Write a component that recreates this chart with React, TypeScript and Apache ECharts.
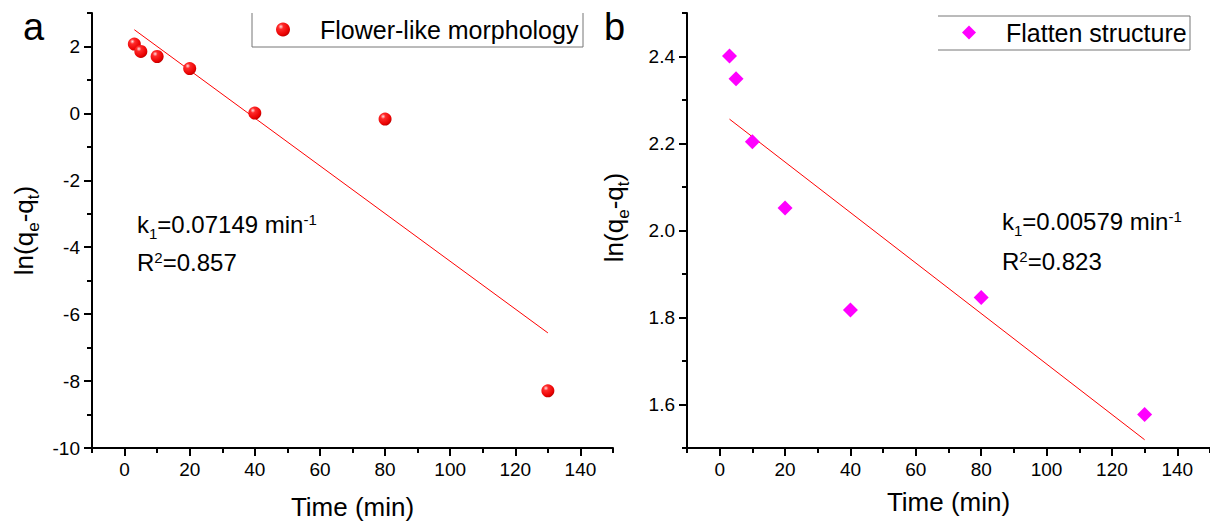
import React, { useEffect, useRef } from 'react';
import * as echarts from 'echarts';

// ---------- data ----------
const timeA = [3, 5, 10, 20, 40, 80, 130];
const lnA = [2.07, 1.85, 1.7, 1.34, 0.01, -0.17, -8.29];
const fitA = [[3, 2.5], [130, -6.56]];

const timeB = [3, 5, 10, 20, 40, 80, 130];
const lnB = [2.401, 2.349, 2.204, 2.052, 1.817, 1.846, 1.577];
const fitB = [[3, 2.256], [130, 1.519]];

const xMajor = [0, 20, 40, 60, 80, 100, 120, 140];
const xMinor = [-10, 10, 30, 50, 70, 90, 110, 130, 150];
const yMajorA = [-10, -8, -6, -4, -2, 0, 2];
const yMinorA = [-9, -7, -5, -3, -1, 1, 3];
const yMajorB = [1.6, 1.8, 2.0, 2.2, 2.4];
const yMinorB = [1.5, 1.7, 1.9, 2.1, 2.3, 2.5];

const nameA = 'Flower-like morphology';
const nameB = 'Flatten structure';

const FONT = '"Liberation Sans", Arial, sans-serif';

const tickStyle = { color: '#000', width: 2 };

function majorX(gridIndex: number, nameGap: number) {
  return {
    type: 'value', gridIndex, min: -10, max: 150, position: 'bottom',
    axisLine: { show: true, onZero: false, lineStyle: { color: '#000', width: 2 } },
    axisTick: { show: true, customValues: xMajor, length: 8, lineStyle: tickStyle },
    axisLabel: { customValues: xMajor, fontSize: 19, color: '#000', margin: 12, fontFamily: FONT },
    splitLine: { show: false },
    name: 'Time (min)', nameLocation: 'middle', nameGap,
    nameTextStyle: { fontSize: 26, color: '#000', fontFamily: FONT },
  };
}
function minorX(gridIndex: number) {
  return {
    type: 'value', gridIndex, min: -10, max: 150, position: 'bottom',
    axisLine: { show: false, onZero: false },
    axisTick: { show: true, customValues: xMinor, length: 5, lineStyle: tickStyle },
    axisLabel: { show: false },
    splitLine: { show: false },
  };
}
const yNameRich = {
  b: { fontSize: 26, lineHeight: 26, verticalAlign: 'top', fontFamily: FONT, color: '#000' },
  s: { fontSize: 17, lineHeight: 31, verticalAlign: 'bottom', fontFamily: FONT, color: '#000' },
};
function majorY(gridIndex: number, min: number, max: number, vals: number[], fmt: (v: number) => string, nameGap: number, pad: number[]) {
  return {
    type: 'value', gridIndex, min, max, position: 'left',
    axisLine: { show: true, onZero: false, lineStyle: { color: '#000', width: 2 } },
    axisTick: { show: true, customValues: vals, length: 8, lineStyle: tickStyle },
    axisLabel: { customValues: vals, fontSize: 19, color: '#000', margin: 12, fontFamily: FONT, formatter: fmt },
    splitLine: { show: false },
    name: '{b|ln(q}{s|e}{b|-q}{s|t}{b|)}', nameLocation: 'middle', nameGap,
    nameTextStyle: { fontSize: 26, color: '#000', fontFamily: FONT, rich: yNameRich, padding: pad },
  };
}
function minorY(gridIndex: number, min: number, max: number, vals: number[]) {
  return {
    type: 'value', gridIndex, min, max, position: 'left',
    axisLine: { show: false, onZero: false },
    axisTick: { show: true, customValues: vals, length: 5, lineStyle: tickStyle },
    axisLabel: { show: false },
    splitLine: { show: false },
  };
}

const annRich = {
  b: { fontSize: 24, lineHeight: 24, verticalAlign: 'top', fontFamily: FONT, color: '#000' },
  sub: { fontSize: 15, lineHeight: 29, verticalAlign: 'bottom', fontFamily: FONT, color: '#000' },
  sup: { fontSize: 15, lineHeight: 15, verticalAlign: 'top', fontFamily: FONT, color: '#000' },
};

const sphere = {
  type: 'radial', x: 0.35, y: 0.3, r: 0.75,
  colorStops: [
    { offset: 0, color: '#ffe0e0' },
    { offset: 0.25, color: '#ff2a2a' },
    { offset: 0.8, color: '#e80000' },
    { offset: 1, color: '#b00000' },
  ],
};

export default function App() {
  const ref = useRef<HTMLDivElement>(null);
  useEffect(() => {
    if (!ref.current) return;
    const chart = echarts.init(ref.current, undefined, { renderer: 'svg' });
    const option: any = {
      animation: false,
      backgroundColor: '#fff',
      grid: [
        { left: 92, top: 13, width: 521, height: 435, containLabel: false, outerBoundsMode: 'none' },
        { left: 687, top: 13, width: 523, height: 435, containLabel: false, outerBoundsMode: 'none' },
      ],
      xAxis: [majorX(0, 46), minorX(0), majorX(1, 41), minorX(1)],
      yAxis: [
        majorY(0, -10, 3, yMajorA, (v: number) => String(v), 50, [0, 0, 0, 0]),
        minorY(0, -10, 3, yMinorA),
        majorY(1, 1.5, 2.5, yMajorB, (v: number) => v.toFixed(1), 55, [0, 0, 0, 26]),
        minorY(1, 1.5, 2.5, yMinorB),
      ],
      legend: [
        {
          data: [nameA], left: 271, top: 12, itemWidth: 14, itemHeight: 14, selectedMode: false,
          textStyle: { fontSize: 25, color: '#000', fontFamily: FONT, padding: [0, 0, 0, 25] },
        },
        {
          data: [nameB], left: 957, top: 15, itemWidth: 14, itemHeight: 14, selectedMode: false,
          textStyle: { fontSize: 25, color: '#000', fontFamily: FONT, padding: [0, 0, 0, 25] },
        },
      ],
      series: [
        {
          name: 'fitA', type: 'line', xAxisIndex: 0, yAxisIndex: 0, data: fitA,
          symbol: 'none', lineStyle: { color: '#ff0000', width: 1 }, z: 2,
        },
        {
          name: nameA, type: 'scatter', xAxisIndex: 0, yAxisIndex: 0,
          data: timeA.map((t, i) => [t, lnA[i]]),
          symbol: 'circle', symbolSize: 13, itemStyle: { color: sphere, opacity: 1 }, z: 3,
        },
        {
          name: 'fitB', type: 'line', xAxisIndex: 2, yAxisIndex: 2, data: fitB,
          symbol: 'none', lineStyle: { color: '#ff0000', width: 1 }, z: 2,
        },
        {
          name: nameB, type: 'scatter', xAxisIndex: 2, yAxisIndex: 2,
          data: timeB.map((t, i) => [t, lnB[i]]),
          symbol: 'diamond', symbolSize: 15, itemStyle: { color: '#ff00ff', opacity: 1 }, z: 3,
        },
      ],
      graphic: [
        { type: 'text', left: 23, top: 8, style: { text: 'a', fontSize: 38, fontFamily: FONT, fill: '#000' } },
        { type: 'text', left: 604, top: 8, style: { text: 'b', fontSize: 38, fontFamily: FONT, fill: '#000' } },
        {
          type: 'text', x: 137, y: 212,
          style: { text: '{b|k}{sub|1}{b|=0.07149 min}{sup|-1}', rich: annRich, verticalAlign: 'top' },
        },
        {
          type: 'text', x: 137, y: 250,
          style: { text: '{b|R}{sup|2}{b|=0.857}', rich: annRich, verticalAlign: 'top' },
        },
        {
          type: 'text', x: 1002, y: 209,
          style: { text: '{b|k}{sub|1}{b|=0.00579 min}{sup|-1}', rich: annRich, verticalAlign: 'top' },
        },
        {
          type: 'text', x: 1002, y: 249,
          style: { text: '{b|R}{sup|2}{b|=0.823}', rich: annRich, verticalAlign: 'top' },
        },
        // legend frames
        { type: 'line', shape: { x1: 252, y1: 13, x2: 252, y2: 47 }, style: { stroke: '#777', lineWidth: 1 } },
        { type: 'line', shape: { x1: 252, y1: 47, x2: 583, y2: 47 }, style: { stroke: '#777', lineWidth: 1 } },
        { type: 'line', shape: { x1: 583, y1: 13, x2: 583, y2: 47 }, style: { stroke: '#777', lineWidth: 1 } },
        { type: 'line', shape: { x1: 938, y1: 16, x2: 1190, y2: 16 }, style: { stroke: '#777', lineWidth: 1 } },
        { type: 'line', shape: { x1: 938, y1: 50, x2: 1190, y2: 50 }, style: { stroke: '#777', lineWidth: 1 } },
        { type: 'line', shape: { x1: 1190, y1: 16, x2: 1190, y2: 50 }, style: { stroke: '#777', lineWidth: 1 } },
      ],
    };
    chart.setOption(option);
    return () => chart.dispose();
  }, []);
  return <div ref={ref} style={{ position: 'fixed', left: 0, top: 0, width: 1210, height: 528 }} />;
}
